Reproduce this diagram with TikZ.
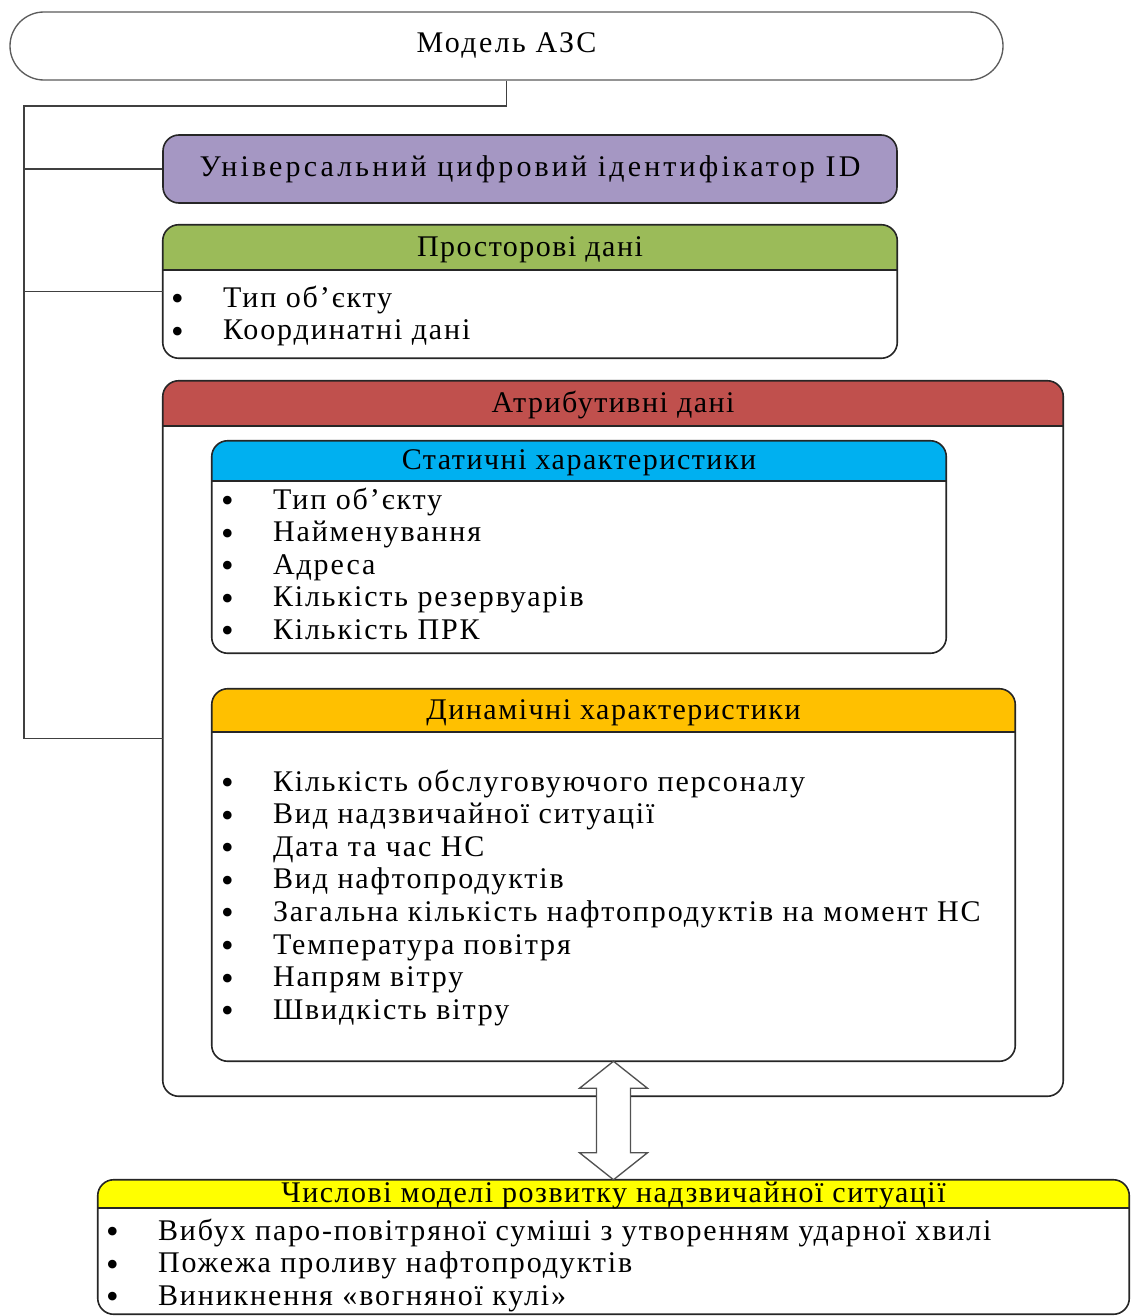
\documentclass[tikz,border=0pt]{standalone}
\usepackage{fontspec}
\setmainfont{Liberation Serif}
\usetikzlibrary{calc}

\definecolor{idpurple}{HTML}{A597C3}
\definecolor{geogreen}{HTML}{9BBB59}
\definecolor{attrred}{HTML}{C0504D}
\definecolor{statblue}{HTML}{00B0F0}
\definecolor{dynorange}{HTML}{FFC000}
\definecolor{modyellow}{HTML}{FFFF00}
\definecolor{edge}{HTML}{262626}
\definecolor{wirecol}{HTML}{404040}

% widely tracked serif used for all labels
\newfontfamily\labelfont[LetterSpace=5]{Liberation Serif}
\newfontfamily\itemfont[LetterSpace=6.3]{Liberation Serif}
\newfontfamily\widefont[LetterSpace=8]{Liberation Serif}
\newfontfamily\widerfont[LetterSpace=10.5]{Liberation Serif}
\newcommand\labelsize{\fontsize{22.5}{26}\selectfont}
\newcommand\dotmark{{\fontsize{27}{26}\selectfont\raisebox{-2.5pt}{•}}}

\tikzset{
  panel/.style={rectangle, fill=white, inner sep=0pt},
  panelline/.style={draw=edge, line width=1.2pt},
  headtext/.style={inner sep=0pt, text height=15pt, text depth=4pt,
                   font=\labelfont\labelsize},
  itemtext/.style={anchor=west, inner sep=0pt, text height=15pt, text depth=4pt,
                   font=\itemfont\labelsize},
  wire/.style={draw=wirecol, line width=1.1pt},
  blockarrow/.style={draw=edge!80, line width=1pt, fill=white, line join=miter},
}

% #1 name, #2 centre, #3 width, #4 height, #5 header height (all in px), #6 fill, #7 title
\newcommand\panelbox[7]{%
  \node[panel, minimum width=#3*0.75pt, minimum height=#4*0.75pt] (#1) at (#2) {};
  \fill[#6] ($(#1.north west)+(0,#5)$) [rounded corners=12pt] -- (#1.north west)
     -- (#1.north east) [sharp corners] -- ($(#1.north east)+(0,#5)$) -- cycle;
  \draw[panelline] ($(#1.north west)+(0,#5)$) -- ($(#1.north east)+(0,#5)$);
  \draw[panelline, rounded corners=12pt] (#1.north west) rectangle (#1.south east);
  \node[headtext] (#1-head) at ($(#1.north)+(0,#5/2+1.5)$) {#7};
}

% bullet list: #1 name prefix, #2 first-line anchor, #3 items
\newcommand\bulletlist[3]{%
  \foreach \txt [count=\k from 0] in {#3}
    \node[itemtext] (#1-\k) at ($(#2)+(0,\k*32.6)$) {\makebox[39pt][l]{\dotmark}\txt};
}

\begin{document}
\begin{tikzpicture}[x=0.75pt, y=-0.75pt]
  \useasboundingbox[fill=white] (0,0) rectangle (1131,1316);

  % top-level model
  \node[rectangle, draw=edge!75, line width=1pt, rounded corners=25.5pt,
        minimum width=993*0.75pt, minimum height=68*0.75pt] (model) at (506.5,46) {};
  \node[inner sep=0pt, text height=15pt, text depth=4pt, font=\widefont\labelsize]
        (model-text) at ($(model.center)+(0,-1)$) {Модель АЗС};

  % unique identifier
  \node[rectangle, draw=edge, line width=1.2pt, fill=idpurple, rounded corners=12pt,
        minimum width=734*0.75pt, minimum height=68*0.75pt,
        text height=15pt, text depth=4pt,
        font=\widerfont\labelsize] (uid) at (530,169)
        {Універсальний цифровий ідентифікатор ID};

  % spatial data
  \panelbox{spatial}{530,291.5}{734}{133}{45}{geogreen}{Просторові дані}
  \coordinate (spatial-list) at ($(spatial.north west)+(8,75)$);
  \bulletlist{spatial}{spatial-list}{Тип об’єкту, Координатні дані}

  % attribute data
  \panelbox{attr}{613,738.5}{900}{715}{45}{attrred}{Атрибутивні дані}

  \panelbox{static}{579,547}{734}{212}{40}{statblue}{Статичні характеристики}
  \coordinate (static-list) at ($(static.north west)+(9,61)$);
  \bulletlist{static}{static-list}{Тип об’єкту, Найменування, Адреса,
    Кількість резервуарів, Кількість ПРК}

  \panelbox{dyn}{613.5,875}{803}{372}{43}{dynorange}{Динамічні характеристики}
  \coordinate (dyn-list) at ($(dyn.north west)+(9,95)$);
  \bulletlist{dyn}{dyn-list}{Кількість обслуговуючого персоналу,
    Вид надзвичайної ситуації, Дата та час НС, Вид нафтопродуктів,
    Загальна кількість нафтопродуктів на момент НС, Температура повітря,
    Напрям вітру, Швидкість вітру}

  % numerical models
  \panelbox{nummod}{613.5,1247}{1031}{134}{28}{modyellow}{Числові моделі розвитку надзвичайної ситуації}
  \coordinate (nummod-list) at ($(nummod.north west)+(8,53)$);
  \bulletlist{nummod}{nummod-list}{Вибух паро-повітряної суміші з утворенням ударної хвилі,
    Пожежа проливу нафтопродуктів, Виникнення «вогняної кулі»}

  % tree connector from the model
  \coordinate (bus) at (24,106);
  \draw[wire] (model.south) |- (bus) -- (bus |- attr.west) -- (attr.west);
  \draw[wire] (bus |- uid.west) -- (uid.west);
  \draw[wire] (bus |- spatial.west) -- (spatial.west);

  % two-way block arrow between attribute data and numerical models
  \coordinate (tipA) at (dyn.south);
  \coordinate (tipB) at (dyn.south |- nummod.north);
  \draw[blockarrow] (tipA) -- ($(tipA)+(34,27)$) -- ($(tipA)+(17,27)$)
    -- ($(tipB)+(17,-27)$) -- ($(tipB)+(34,-27)$) -- (tipB)
    -- ($(tipB)+(-34,-27)$) -- ($(tipB)+(-17,-27)$)
    -- ($(tipA)+(-17,27)$) -- ($(tipA)+(-34,27)$) -- cycle;
\end{tikzpicture}
\end{document}
